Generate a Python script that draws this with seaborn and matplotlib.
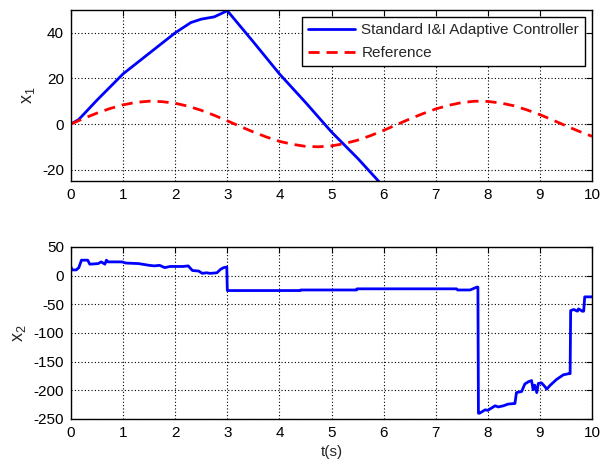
import numpy as np
import pandas as pd
import matplotlib
matplotlib.use("Agg")
import matplotlib.pyplot as plt
import seaborn as sns

# x1 of the standard I&I adaptive controller
t_ctrl = [0, 0.15, 0.5, 1.0, 1.5, 2.0, 2.3, 2.5, 2.75, 3.0, 3.5, 4.0, 4.5, 5.0, 5.5, 5.92]
x1_ctrl = [0, 2, 10.5, 22, 31, 40, 44.5, 46, 47, 49.7, 36, 22, 9.5, -3.5, -15, -25.5]

# reference trajectory
t_ref = [0, 0.25, 0.5, 0.75, 1.0, 1.25, 1.5, 1.75, 2.0, 2.25, 2.5, 2.75, 3.0, 3.25,
         3.5, 3.75, 4.0, 4.25, 4.5, 4.75, 5.0, 5.25, 5.5, 5.75, 6.0, 6.25, 6.5,
         6.75, 7.0, 7.25, 7.5, 7.75, 8.0, 8.25, 8.5, 8.75, 9.0, 9.25, 9.5, 9.75, 10.0]
x1_ref = [0, 2.5, 4.8, 6.8, 8.4, 9.5, 10.0, 9.8, 9.1, 7.8, 6.0, 3.8, 1.4, -1.1,
          -3.5, -5.7, -7.6, -8.9, -9.8, -10.0, -9.6, -8.6, -7.1, -5.1, -2.8, -0.3, 2.2,
          4.5, 6.6, 8.2, 9.4, 10.0, 9.9, 9.2, 8.0, 6.2, 4.1, 1.7, -0.8, -3.2, -5.4]

# x2 of the controller
t_x2 = [0, 0.02, 0.1, 0.15, 0.2, 0.32, 0.36, 0.52, 0.58, 0.65, 0.68, 0.71, 0.98,
        1.05, 1.3, 1.5, 1.6, 1.7, 1.8, 1.9, 2.15, 2.25, 2.33, 2.45, 2.52, 2.6,
        2.67, 2.8, 2.87, 2.93, 2.99, 3.0, 4.4, 4.41, 5.48, 5.49, 7.4, 7.42, 7.66,
        7.79, 7.81, 7.82, 7.84, 7.95, 8.0, 8.14, 8.2, 8.3, 8.39, 8.52, 8.55, 8.65,
        8.71, 8.78, 8.84, 8.87, 8.9, 8.94, 8.97, 9.03, 9.1, 9.13, 9.2, 9.32, 9.45,
        9.55, 9.58, 9.59, 9.65, 9.72, 9.74, 9.78, 9.81, 9.84, 9.86, 10.0]
x2_ctrl = [15, 10, 10, 14, 27, 27, 20, 21, 24, 20, 27, 24, 24,
           22, 21, 18, 17, 18, 14, 16, 16, 17, 9, 8, 4, 5,
           4, 5, 11, 14, 15, -26, -26, -25, -25, -23, -23, -25, -25,
           -20, -20, -240, -240, -234, -235, -227, -229, -227, -224, -223, -204, -202,
           -189, -185, -183, -199, -191, -204, -188, -187, -194, -198, -191, -181, -173,
           -171, -171, -61, -59, -62, -58, -60, -62, -62, -37, -37]

sns.set_style("white")
plt.rcParams['font.family'] = ['Liberation Sans', 'DejaVu Sans']
plt.rcParams['mathtext.fontset'] = 'custom'
plt.rcParams['mathtext.rm'] = 'Liberation Sans'
plt.rcParams['mathtext.it'] = 'Liberation Sans'
plt.rcParams['axes.unicode_minus'] = False

fig = plt.figure(figsize=(6.08, 4.66), dpi=100)
ax1 = fig.add_axes([0.1168, 0.6116, 0.8569, 0.3669])
ax2 = fig.add_axes([0.1168, 0.1009, 0.8569, 0.3691])

df1 = pd.DataFrame({'t': t_ctrl, 'x': x1_ctrl})
df_ref = pd.DataFrame({'t': t_ref, 'x': x1_ref})
df2 = pd.DataFrame({'t': t_x2, 'x': x2_ctrl})

sns.lineplot(data=df1, x='t', y='x', ax=ax1, color='#0000ff', linewidth=2,
             label='Standard I&I Adaptive Controller', estimator=None, sort=False)
sns.lineplot(data=df_ref, x='t', y='x', ax=ax1, color='#ff0000', linewidth=2,
             linestyle=(0, (4, 2.5)), label='Reference', estimator=None, sort=False)
sns.lineplot(data=df2, x='t', y='x', ax=ax2, color='#0000ff', linewidth=2,
             estimator=None, sort=False)

ax1.set_xlim(0, 10)
ax1.set_ylim(-25, 50)
ax1.set_yticks([-20, 0, 20, 40])
ax2.set_xlim(0, 10)
ax2.set_ylim(-250, 50)
ax2.set_yticks(range(-250, 51, 50))

for ax in (ax1, ax2):
    ax.set_xticks(range(0, 11))
    ax.grid(True, color='black', linestyle=(0, (1, 2)), linewidth=0.8)
    ax.tick_params(direction='in', top=True, right=True, length=4, pad=5,
                   labelsize=11, colors='black', width=0.8)
    for s in ax.spines.values():
        s.set_color('black')
        s.set_linewidth(1)
    ax.set_xlabel('')

ax1.set_ylabel(r'x$_1$', fontsize=13)
ax2.set_ylabel(r'x$_2$', fontsize=13)
ax2.set_xlabel('t(s)', fontsize=11)

leg = ax1.legend(loc='upper right', fontsize=11, frameon=True, fancybox=False,
                 edgecolor='black', framealpha=1, borderpad=0.4, labelspacing=0.6,
                 handlelength=3.1, handletextpad=0.4, borderaxespad=0.45)
leg.get_frame().set_linewidth(1)

fig.savefig('out.png', dpi=100)
